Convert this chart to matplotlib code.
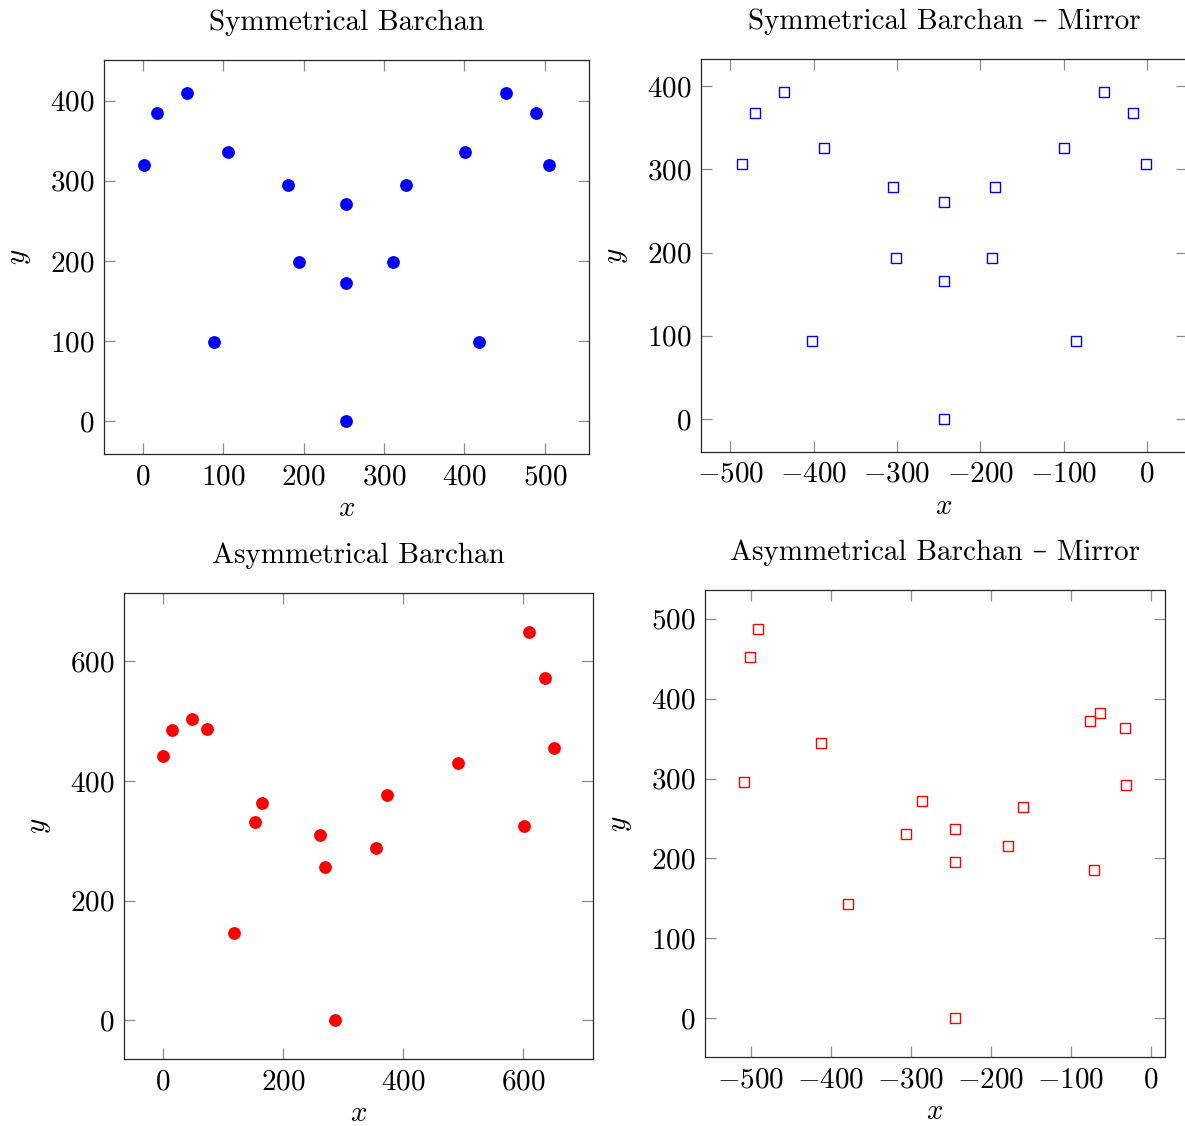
import matplotlib
matplotlib.use('Agg')
import matplotlib.pyplot as plt
from matplotlib.ticker import MultipleLocator

plt.rcParams['font.family'] = ['cmr10', 'DejaVu Serif']
plt.rcParams['mathtext.fontset'] = 'cm'
plt.rcParams['axes.formatter.use_mathtext'] = True
plt.rcParams['font.size'] = 21

# Symmetrical barchan
sym_x = [1.7, 17.8, 54.8, 105.8, 180.5, 194.6, 88, 253, 253, 253, 311, 326.6, 400.8, 418, 451.5, 488.8, 505]
sym_y = [320, 384, 409.6, 336, 294, 199, 98.4, 271, 172, 0, 199, 294, 336, 98.4, 409.6, 384, 320]

# Symmetrical barchan - mirror
symm_x = [-486.4, -470.8, -435.2, -388, -305.2, -301.6, -402, -244, -244, -244, -186.4, -182, -100, -85.6, -52, -16.8, -1.2]
symm_y = [306.8, 367.6, 393.2, 326, 278.4, 194, 93.6, 260.4, 165.6, 0, 194, 278.4, 326, 93.6, 393.2, 367.6, 306.8]

# Asymmetrical barchan
asym_x = [1.1, 16.1, 48.8, 73.7, 119.1, 154, 165.1, 261.5, 270.9, 286.4, 355.1, 374, 492, 601.1, 610, 636.6, 651.5]
asym_y = [441, 484.2, 503.6, 485.9, 145.7, 331.3, 362.3, 309.7, 256.5, 0, 288, 376.7, 430.5, 325.2, 648.2, 572.3, 454.8]

# Asymmetrical barchan - mirror
asymm_x = [-508.75, -501.25, -490.8, -412.5, -378.3, -305.8, -285.4, -244.2, -244.2, -244.2, -177.9, -159.2, -76.25, -63.75, -70.8, -32.1, -30.4]
asymm_y = [295.8, 452.5, 487.5, 345, 142.5, 230.8, 272, 236.7, 195, 0, 215, 265, 372, 382, 185.8, 363.75, 291.7]

W, H = 1185, 1126
fig = plt.figure(figsize=(W / 100, H / 100), dpi=100)


def make_ax(l, r, t, b):
    return fig.add_axes([l / W, 1 - b / H, (r - l) / W, (b - t) / H])


def style(ax, title, xstep, ystep):
    ax.margins(x=0.1, y=0.1)
    ax.xaxis.set_major_locator(MultipleLocator(xstep))
    ax.yaxis.set_major_locator(MultipleLocator(ystep))
    ax.tick_params(direction='in', length=8, width=0.9, color='0.55',
                   top=True, right=True, pad=7, labelsize=21)
    for s in ax.spines.values():
        s.set_linewidth(0.9)
        s.set_color('0.15')
    ax.set_title(title, fontsize=21, pad=21.5)
    ax.set_xlabel('$x$', fontsize=21, labelpad=4)
    ax.set_ylabel('$y$', fontsize=21, labelpad=12)


ax1 = make_ax(104, 589.3, 60, 454)
ax1.plot(sym_x, sym_y, 'o', color='blue', markersize=8.2, linestyle='none')
style(ax1, 'Symmetrical Barchan', 100, 100)

ax2 = make_ax(701.3, 1186.5, 59, 451.7)
ax2.plot(symm_x, symm_y, 's', markerfacecolor='none', markeredgecolor='blue',
         markeredgewidth=1.0, markersize=7.8, linestyle='none')
style(ax2, 'Symmetrical Barchan – Mirror', 100, 100)

ax3 = make_ax(124.3, 593, 593.3, 1059.3)
ax3.plot(asym_x, asym_y, 'o', color='red', markersize=8.2, linestyle='none')
style(ax3, 'Asymmetrical Barchan', 200, 200)

ax4 = make_ax(705.3, 1164.7, 589.7, 1057.3)
ax4.plot(asymm_x, asymm_y, 's', markerfacecolor='none', markeredgecolor='red',
         markeredgewidth=1.0, markersize=7.8, linestyle='none')
style(ax4, 'Asymmetrical Barchan – Mirror', 100, 100)

fig.savefig('out.png', dpi=100)
